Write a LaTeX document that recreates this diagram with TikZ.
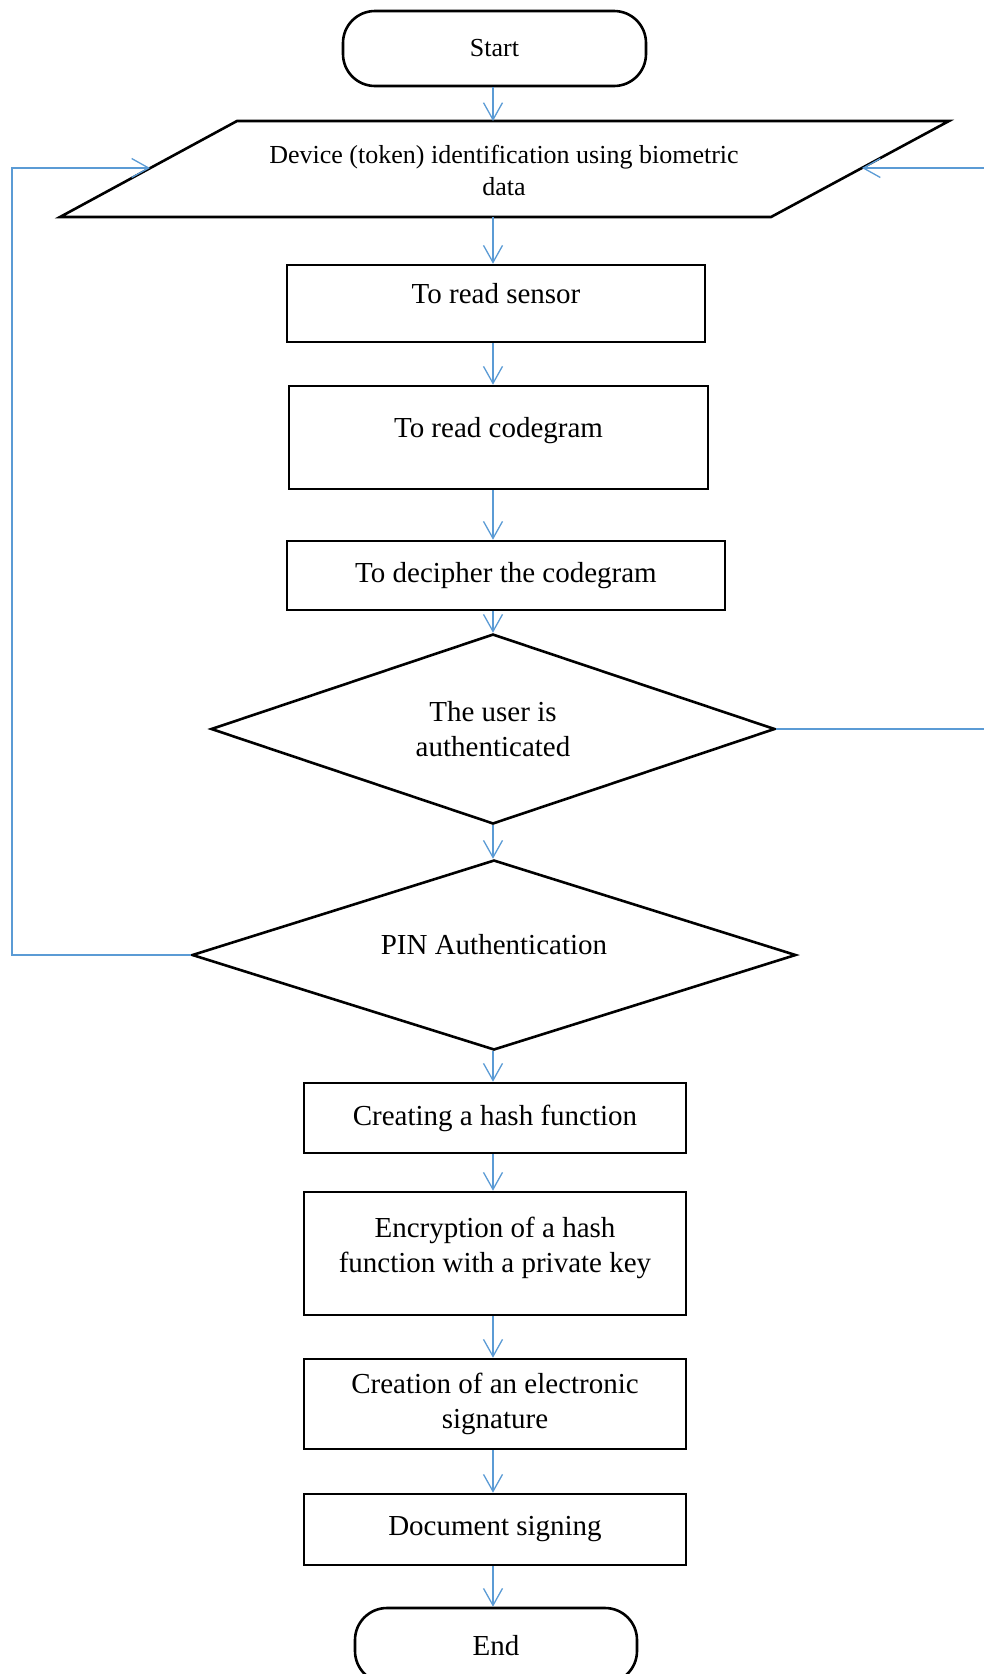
\documentclass[tikz,border=0pt]{standalone}
\usepackage{fontspec}
\setmainfont{Liberation Serif}
\usepackage{tikz}
\usetikzlibrary{shapes.geometric, arrows.meta}
\definecolor{flowblue}{RGB}{91,155,213}
\tikzset{
line/.style={draw=flowblue, line width=1.3pt}, % the blue connectors
arr/.style={line, -{Straight Barb[length=17pt,width=19pt,line width=1.3pt]}}, % open V heads
process/.style={draw, line width=2.6pt, rectangle, align=center, inner sep=0pt, font=\fontsize{29}{35}\selectfont},
terminal/.style={process, rounded corners=32pt},
decision/.style={draw, line width=2.6pt, diamond, aspect=3, align=center, inner sep=0pt, font=\fontsize{29}{35}\selectfont},
upper/.style={text height=20pt, text depth=21pt}, % text sits high in the box
}

\begin{document}
\begin{tikzpicture}[x=1pt, y=-1pt]
\clip (0,0) rectangle (984,1674);
\coordinate (ax) at (493,0);
\node[terminal, minimum width=303, minimum height=75, font=\fontsize{26}{32}\selectfont] (start) at (494.5,48.5) {Start};
% input parallelogram
\coordinate (p1) at (237,121);
\coordinate (p2) at (949,121);
\coordinate (p3) at (771,217);
\coordinate (p4) at (60,217);
\draw[line width=2.6pt] (p1) -- (p2) -- (p3) -- (p4) -- cycle;
\node[align=center, font=\fontsize{26}{32}\selectfont] (dev) at (504,170) {Device (token) identification using biometric\\data};
\node[process, upper, minimum width=418, minimum height=77] (sensor) at (496,303.5) {To read sensor};
\node[process, upper, minimum width=419, minimum height=103] (codegram) at (498.5,437.5) {To read codegram};
\node[process, minimum width=438, minimum height=69] (decipher) at (506,575.5) {To decipher the codegram};
\node[decision, minimum width=564, minimum height=190] (auth) at (493,729) {The user is\\authenticated};
\node[decision, upper, minimum width=604, minimum height=190] (pin) at (494,955) {PIN Authentication};
\node[process, minimum width=382, minimum height=70] (hash) at (495,1118) {Creating a hash function};
\node[process, minimum width=382, minimum height=123] (encrypt) at (495,1253.5) {Encryption of a hash\\function with a private key\\[-18pt]};
\node[process, minimum width=382, minimum height=90] (sign) at (495,1404) {Creation of an electronic\\signature};
\node[process, minimum width=382, minimum height=71] (docsign) at (495,1529.5) {Document signing};
\node[terminal, minimum width=282, minimum height=75] (end) at (496,1645.5) {End};
% loop ends
\coordinate (lx) at (12,168);
\coordinate (inl) at (150,168);
\coordinate (rx) at (992,168);
\coordinate (inr) at (862,168);

\draw[arr] (start.south -| ax) -- (ax |- p1);
\draw[arr] (ax |- p4) -- (sensor.north -| ax);
\draw[arr] (sensor.south -| ax) -- (codegram.north -| ax);
\draw[arr] (codegram.south -| ax) -- (decipher.north -| ax);
\draw[arr] (decipher.south -| ax) -- (auth.north);
\draw[arr] (auth.south) -- (pin.north -| ax);
\draw[arr] (pin.south -| ax) -- (hash.north -| ax);
\draw[arr] (hash.south -| ax) -- (encrypt.north -| ax);
\draw[arr] (encrypt.south -| ax) -- (sign.north -| ax);
\draw[arr] (sign.south -| ax) -- (docsign.north -| ax);
\draw[arr] (docsign.south -| ax) -- (end.north -| ax);
\draw[arr] (pin.west) -| (lx) -- (inl);
\draw[arr] (auth.east) -| (rx) -- (inr);
\end{tikzpicture}
\end{document}
